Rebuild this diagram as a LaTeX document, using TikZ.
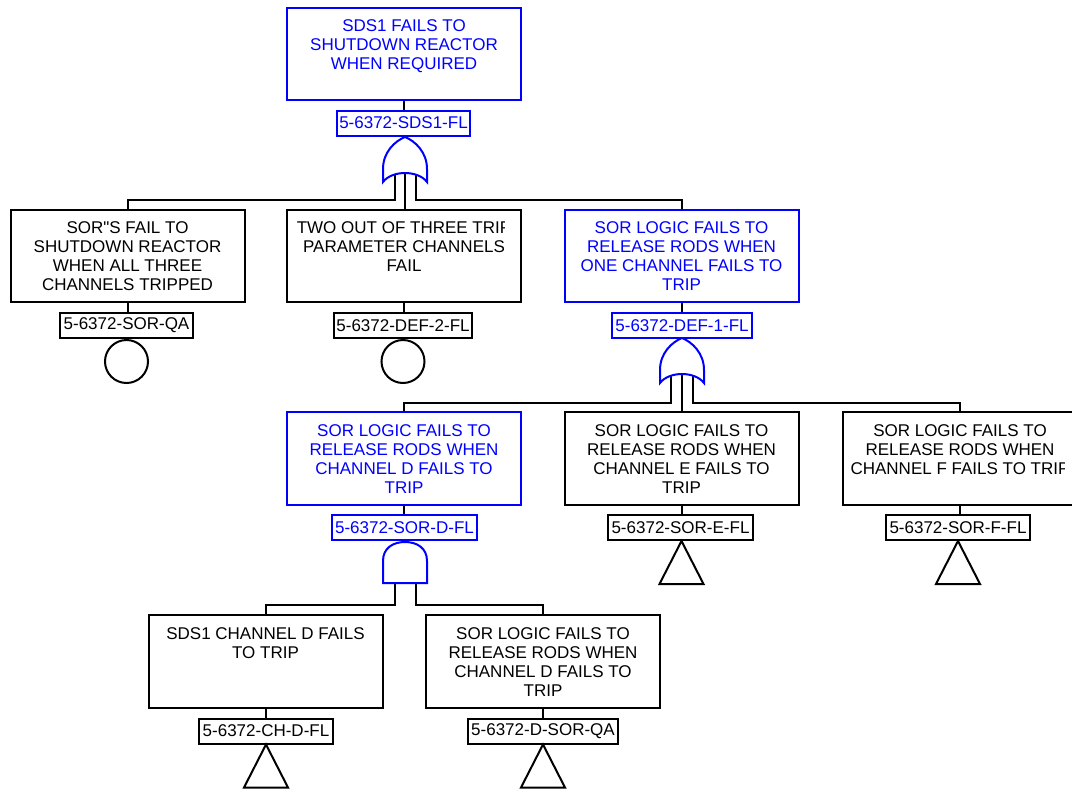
\documentclass[tikz,border=0pt]{standalone}
\usepackage{fontspec}
\setmainfont{Liberation Sans}
\usetikzlibrary{calc}
\newcommand{\evfont}{\fontsize{17}{19}\selectfont}
\begin{document}
\begin{tikzpicture}[x=1pt,y=-1pt,
  ln/.style={line width=2pt, black},
  evbox/.style={draw, line width=2pt, minimum width=234pt, minimum height=92.5pt, inner sep=0pt},
  tagbox/.style={draw, line width=2pt, minimum height=25pt, inner sep=0pt, font=\evfont},
  txt/.style={inner sep=0pt, align=center, anchor=north, font=\evfont},
  bl/.style={draw=blue, text=blue},
  basic/.style={circle, draw, line width=2pt, minimum size=43pt, inner sep=0pt, anchor=north},
  orgate/.pic={\path[draw=blue, fill=white, line width=2pt]
     (0,0) .. controls (-10,4) and (-22,15) .. (-22,32) -- (-22,45)
     .. controls (-13,33) and (13,33) .. (22,45) -- (22,32)
     .. controls (22,15) and (10,4) .. (0,0) -- cycle;},
  andgate/.pic={\path[draw=blue, fill=white, line width=2pt]
     (-22,41) -- (-22,19) .. controls (-22,6) and (-12,0) .. (0,0)
     .. controls (12,0) and (22,6) .. (22,19) -- (22,41) -- cycle;}
]
\useasboundingbox (0,0) rectangle (1072,788);
\clip (0,0) rectangle (1072,788);

% ---------- top event ----------
\node[evbox, draw=blue] (top) at (404,54) {};
\node[txt, text=blue] (topt) at ([yshift=-13pt]top.north) {SDS1 FAILS TO\\SHUTDOWN REACTOR\\WHEN REQUIRED};
\node[tagbox, bl, minimum width=133pt] (tagtop) at (403.5,123) {5-6372-SDS1-FL};
\coordinate (g1) at (405,137);
\coordinate (g1a) at (395,165);
\coordinate (g1b) at (405,165);
\coordinate (g1c) at (416,165);

% ---------- second row ----------
\node[evbox] (sor) at (127.5,256) {};
\node[txt] (sort) at ([yshift=-13pt]sor.north) {SOR\textquotedbl S FAIL TO\\SHUTDOWN REACTOR\\WHEN ALL THREE\\CHANNELS TRIPPED};
\node[tagbox, minimum width=133pt] (tagsor) at (126.5,325.5) {5-6372-SOR-QA};
\node[basic] (csor) at (tagsor.south) {};

\node[evbox] (def2) at (404,256) {};
\begin{scope}
  \clip (280,205) rectangle (504,300);
  \node[txt] (def2t) at ([yshift=-13pt]def2.north) {TWO OUT OF THREE TRIP\\PARAMETER CHANNELS\\FAIL};
\end{scope}
\node[tagbox, minimum width=138pt] (tagdef2) at (403,325.5) {5-6372-DEF-2-FL};
\node[basic] (cdef2) at (tagdef2.south) {};

\node[evbox, draw=blue] (def1) at (681.5,256) {};
\node[txt, text=blue] (def1t) at ([yshift=-13pt]def1.north) {SOR LOGIC FAILS TO\\RELEASE RODS WHEN\\ONE CHANNEL FAILS TO\\TRIP};
\node[tagbox, bl, minimum width=140pt] (tagdef1) at (682,325.5) {5-6372-DEF-1-FL};
\coordinate (g2) at (682,338);
\coordinate (g2a) at (671,366);
\coordinate (g2b) at (682,366);
\coordinate (g2c) at (693,366);

% ---------- third row ----------
\node[evbox, draw=blue] (sord) at (404,458.5) {};
\node[txt, text=blue] (sordt) at ([yshift=-13pt]sord.north) {SOR LOGIC FAILS TO\\RELEASE RODS WHEN\\CHANNEL D FAILS TO\\TRIP};
\node[tagbox, bl, minimum width=145pt] (tagsord) at (404.5,527.5) {5-6372-SOR-D-FL};
\coordinate (g3) at (405,542);
\coordinate (g3a) at (395,575);
\coordinate (g3b) at (416,575);

\node[evbox] (sore) at (681.5,458.5) {};
\node[txt] (soret) at ([yshift=-13pt]sore.north) {SOR LOGIC FAILS TO\\RELEASE RODS WHEN\\CHANNEL E FAILS TO\\TRIP};
\node[tagbox, minimum width=145pt] (tagsore) at (680.5,527.5) {5-6372-SOR-E-FL};

\node[evbox] (sorf) at (960,458.5) {};
\begin{scope}
  \clip (840,405) rectangle (1064,500);
  \node[txt] (sorft) at ([yshift=-13pt]sorf.north) {SOR LOGIC FAILS TO\\RELEASE RODS WHEN\\CHANNEL F FAILS TO TRIP};
\end{scope}
\node[tagbox, minimum width=144pt] (tagsorf) at (958,527.5) {5-6372-SOR-F-FL};

% ---------- fourth row ----------
\node[evbox] (chd) at (265.5,661.5) {};
\node[txt] (chdt) at ([yshift=-13pt]chd.north) {SDS1 CHANNEL D FAILS\\TO TRIP};
\node[tagbox, minimum width=134pt] (tagchd) at (266,731) {5-6372-CH-D-FL};

\node[evbox] (dsor) at (543,661.5) {};
\node[txt] (dsort) at ([yshift=-13pt]dsor.north) {SOR LOGIC FAILS TO\\RELEASE RODS WHEN\\CHANNEL D FAILS TO\\TRIP};
\node[tagbox, minimum width=150pt] (tagdsor) at (543,731) {5-6372-D-SOR-QA};

% ---------- connectors ----------
\draw[ln] (top.south) -- (top.south |- tagtop.north);
\draw[ln] (g1a) |- ([yshift=9pt]sor.north) -- (sor.north);
\draw[ln] (g1b) -- (g1b |- def2.north);
\draw[ln] (g1c) |- ([yshift=9pt]def1.north) -- (def1.north);

\draw[ln] (sor.south) -- (sor.south |- tagsor.north);
\draw[ln] (def2.south) -- (def2.south |- tagdef2.north);
\draw[ln] (def1.south) -- (def1.south |- tagdef1.north);

\draw[ln] (g2a) |- ([yshift=8pt]sord.north) -- (sord.north);
\draw[ln] (g2b) -- (g2b |- sore.north);
\draw[ln] (g2c) |- ([yshift=8pt]sorf.north) -- (sorf.north);

\draw[ln] (sord.south) -- (sord.south |- tagsord.north);
\draw[ln] (sore.south) -- (sore.south |- tagsore.north);
\draw[ln] (sorf.south) -- (sorf.south |- tagsorf.north);

\draw[ln] (g3a) |- ([yshift=9pt]chd.north) -- (chd.north);
\draw[ln] (g3b) |- ([yshift=9pt]dsor.north) -- (dsor.north);

\draw[ln] (chd.south) -- (chd.south |- tagchd.north);
\draw[ln] (dsor.south) -- (dsor.south |- tagdsor.north);

% ---------- transfer triangles ----------
\draw[ln] (tagsore.south -| sore.south) -- ++(-22,43) -- ++(44,0) -- cycle;
\draw[ln] (tagsorf.south) -- ++(-22,43) -- ++(44,0) -- cycle;
\draw[ln] (tagchd.south) -- ++(-22,43) -- ++(44,0) -- cycle;
\draw[ln] (tagdsor.south) -- ++(-22,43) -- ++(44,0) -- cycle;

% ---------- gates ----------
\pic at (g1) {orgate};
\pic at (g2) {orgate};
\pic at (g3) {andgate};
\end{tikzpicture}
\end{document}
